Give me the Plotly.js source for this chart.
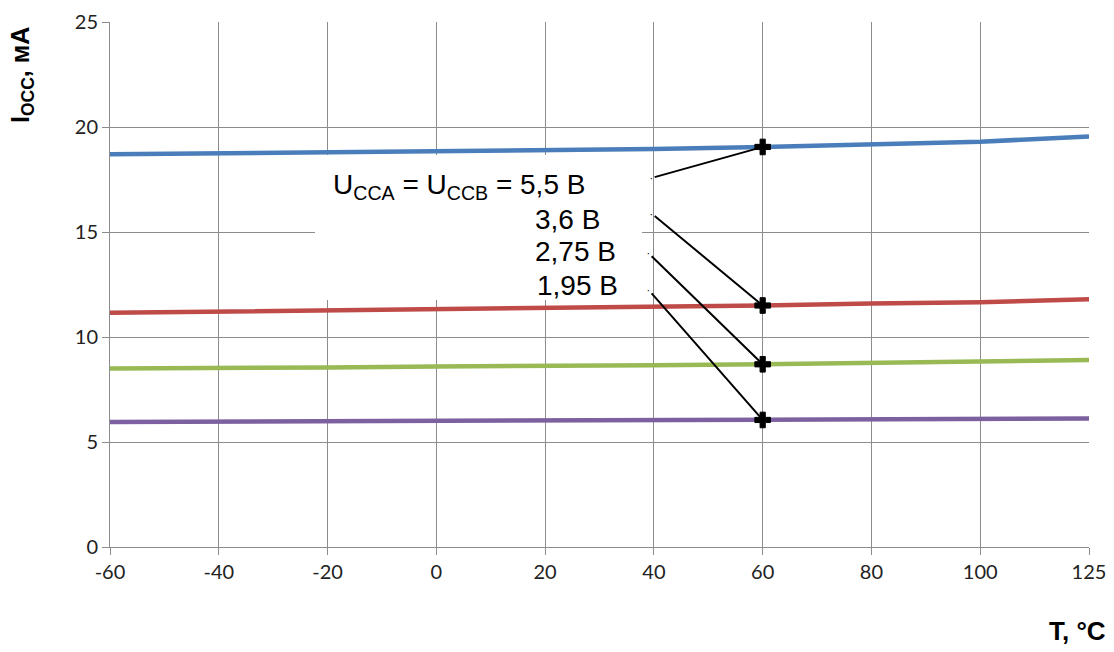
<!DOCTYPE html>
<html><head><meta charset="utf-8">
<script src="https://cdn.plot.ly/plotly-3.0.1.min.js"></script>
<style>html,body{margin:0;padding:0;background:#fff}#c{width:1114px;height:652px}</style>
</head><body><div id="c"></div>
<script>
const temps = ["-60","-40","-20","0","20","40","60","80","100","125"];
const i55  = [18.7, 18.75, 18.8, 18.8, 18.85, 18.95, 19.05, 19.15, 19.3, 19.55];
const i36  = [11.15, 11.2, 11.25, 11.3, 11.4, 11.45, 11.5, 11.6, 11.65, 11.8];
const i275 = [8.5, 8.5, 8.55, 8.6, 8.6, 8.65, 8.7, 8.75, 8.8, 8.9];
const i195 = [5.95, 5.97, 6.0, 6.02, 6.03, 6.04, 6.05, 6.07, 6.1, 6.12];
const seriesLabels = ["U<sub>CCA</sub> = U<sub>CCB</sub> = 5,5 В", "3,6 В", "2,75 В", "1,95 В"];
const markedT = "60";

const series = [i55, i36, i275, i195];
const colors = ["#4a7ebb", "#be4b48", "#98b954", "#7d60a0"];
const traces = series.map((s, k) => ({
  x: temps, y: s, type: "scatter", mode: "lines",
  line: {color: colors[k], width: 4.5}, hoverinfo: "skip"
}));
const mi = temps.indexOf(markedT);
traces.push({
  x: series.map(() => markedT), y: series.map(s => s[mi]),
  type: "scatter", mode: "markers",
  marker: {symbol: "cross", size: 13, color: "#000", line: {color: "#000", width: 1}}
});

const offsets = [[-111, 31], [-111, -92], [-114, -111], [-114, -130]];
const annotations = series.map((s, k) => ({
  x: mi, y: s[mi], xref: "x", yref: "y", text: "·",
  font: {size: 10, color: "#000"},
  showarrow: true, arrowhead: 0, arrowwidth: 2, arrowcolor: "#000",
  ax: offsets[k][0], ay: offsets[k][1], standoff: k === 0 ? 8 : 0
}));
const labelPos = [[331, 186], [533, 219], [533, 251], [535, 285]];
seriesLabels.forEach((t, k) => annotations.push({
  xref: "paper", yref: "paper",
  x: (labelPos[k][0] - 110) / 979, y: (547 - labelPos[k][1]) / 525,
  xanchor: "left", yanchor: "middle", text: t, showarrow: false,
  font: {family: "Liberation Sans, Arial, sans-serif", size: 28, color: "#000"}
}));
annotations.push({
  xref: "paper", yref: "paper", x: (22 - 110) / 979, y: (547 - 75) / 525,
  xanchor: "center", yanchor: "middle", textangle: -90, showarrow: false,
  text: "<b>I<sub>OCC</sub>, мА</b>",
  font: {family: "Liberation Sans, Arial, sans-serif", size: 25, color: "#000"}
});
annotations.push({
  xref: "paper", yref: "paper", x: (1108 - 110) / 979, y: (547 - 631) / 525,
  xanchor: "right", yanchor: "middle", showarrow: false,
  text: "<b>T, °C</b>",
  font: {family: "Liberation Sans, Arial, sans-serif", size: 26, color: "#000"}
});

const layout = {
  width: 1114, height: 652,
  margin: {l: 110, r: 25, t: 22, b: 105},
  paper_bgcolor: "#fff", plot_bgcolor: "#fff",
  showlegend: false,
  xaxis: {
    type: "category", range: [0, 9], showgrid: true, gridcolor: "#8c8c8c", gridwidth: 1,
    showline: true, linecolor: "#8c8c8c", ticks: "outside", ticklen: 7, tickcolor: "#8c8c8c",
    tickfont: {family: "Lato, Open Sans, sans-serif", size: 20, color: "#222"}, zeroline: false
  },
  yaxis: {
    range: [0, 25], dtick: 5, showgrid: true, gridcolor: "#8c8c8c", gridwidth: 1,
    showline: true, linecolor: "#8c8c8c", ticks: "outside", ticklen: 7, tickcolor: "#8c8c8c",
    tickfont: {family: "Lato, Open Sans, sans-serif", size: 20, color: "#222"}, zeroline: false
  },
  shapes: [{
    type: "rect", xref: "paper", yref: "paper", layer: "above",
    x0: (315 - 110) / 979, x1: (642 - 110) / 979,
    y0: (547 - 300) / 525, y1: (547 - 155) / 525,
    fillcolor: "#fff", line: {width: 0}
  }],
  annotations: annotations
};
Plotly.newPlot("c", traces, layout, {displayModeBar: false, staticPlot: true});
</script></body></html>
